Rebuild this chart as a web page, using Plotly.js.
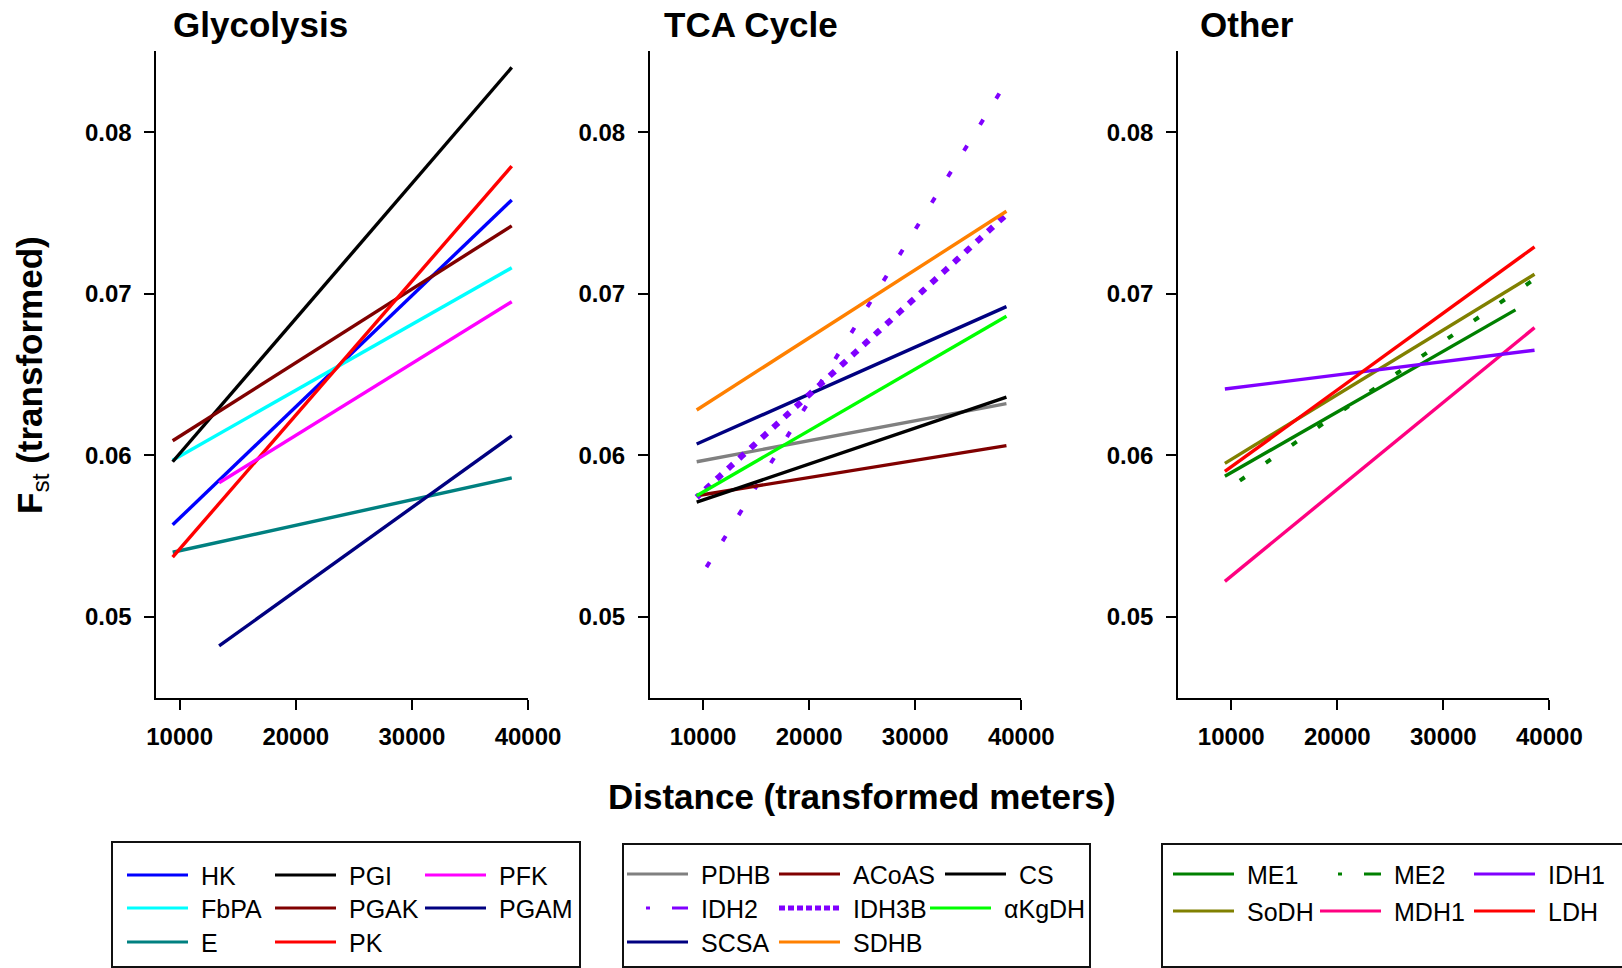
<!DOCTYPE html>
<html><head><meta charset="utf-8">
<script src="https://cdn.plot.ly/plotly-3.0.1.min.js"></script>
<style>html,body{margin:0;padding:0;background:#fff}#chart{width:1622px;height:968px}</style>
</head><body><div id="chart"></div>
<script>
// ================= DATA =================
const panelTitles = ['Glycolysis', 'TCA Cycle', 'Other'];
const xAxisTitle = 'Distance (transformed meters)';
const yAxisTitle = '<b>F</b><sub>st</sub><b> (transformed)</b>';
const yTickVals = [0.05, 0.06, 0.07, 0.08];
const xTickVals = [10000, 20000, 30000, 40000];

// Glycolysis (order = legend column order)
const glyGenes  = ['HK', 'FbPA', 'E', 'PGI', 'PGAK', 'PK', 'PFK', 'PGAM'];
const glyXStart = [9400, 9400, 9400, 9400, 9400, 9400, 13400, 13400];
const glyXEnd   = [38600, 38600, 38600, 38600, 38600, 38600, 38600, 38600];
const glyYStart = [0.0557, 0.0597, 0.0540, 0.0596, 0.0609, 0.0537, 0.0583, 0.0482];
const glyYEnd   = [0.0758, 0.0716, 0.0586, 0.0840, 0.0742, 0.0779, 0.0695, 0.0612];

// TCA cycle
const tcaGenes  = ['PDHB', 'IDH2', 'SCSA', 'ACoAS', 'IDH3B', 'SDHB', 'CS', 'αKgDH'];
const tcaXStart = [9400, 9400, 9400, 9400, 9400, 9400, 9400, 9400];
const tcaXEnd   = [38600, 38600, 38600, 38600, 38600, 38600, 38600, 38600];
const tcaYStart = [0.0596, 0.0521, 0.0607, 0.0575, 0.0574, 0.0628, 0.0571, 0.0575];
const tcaYEnd   = [0.0632, 0.0831, 0.0692, 0.0606, 0.0749, 0.0751, 0.0636, 0.0686];

// Other
const othGenes  = ['ME1', 'SoDH', 'ME2', 'MDH1', 'IDH1', 'LDH'];
const othXStart = [9400, 9400, 9400, 9400, 9400, 9400];
const othXEnd   = [36800, 38600, 38600, 38600, 38600, 38600];
const othYStart = [0.0587, 0.0595, 0.0578, 0.0522, 0.0641, 0.0590];
const othYEnd   = [0.0690, 0.0712, 0.0709, 0.0679, 0.0665, 0.0729];

// ================= STYLES =================
const STYLE = {
  HK: {color: '#0000FF'}, FbPA: {color: '#00FFFF'}, E: {color: '#008080'},
  PGI: {color: '#000000'}, PGAK: {color: '#800000'}, PK: {color: '#FF0000'},
  PFK: {color: '#FF00FF'}, PGAM: {color: '#000080'},
  PDHB: {color: '#808080'}, ACoAS: {color: '#800000'}, CS: {color: '#000000'},
  IDH2: {color: '#8000FF', width: 4, dash: '0px,18.6px,6px,6px', legendDash: '0px,19px,4px,22px,19px,100px'},
  IDH3B: {color: '#8000FF', width: 6, dash: '3.5px,8.3px,3.5px,0px', legendDash: '6px,3px', legendWidth: 5},
  'αKgDH': {color: '#00FF00'}, SCSA: {color: '#000080'}, SDHB: {color: '#FF8000'},
  ME1: {color: '#008000'}, ME2: {color: '#008000', width: 4, dash: '0px,18.1px,6px,7.4px', legendDash: '0px,18px,4px,22px,19px,100px'},
  IDH1: {color: '#8000FF'}, SoDH: {color: '#808000'}, MDH1: {color: '#FF0080'}, LDH: {color: '#FF0000'}
};
const LINE_W = 3.4;
const FONT = 'Liberation Sans, Arial, Helvetica, sans-serif';
const W = 1622, H = 968;
const px = v => v / W;
const py = v => 1 - v / H;

// ================= TRACES =================
const panels = [
  {genes: glyGenes, xs: glyXStart, xe: glyXEnd, ys: glyYStart, ye: glyYEnd},
  {genes: tcaGenes, xs: tcaXStart, xe: tcaXEnd, ys: tcaYStart, ye: tcaYEnd},
  {genes: othGenes, xs: othXStart, xe: othXEnd, ys: othYStart, ye: othYEnd}
];
const traces = [];
panels.forEach((p, pi) => {
  const sfx = pi === 0 ? '' : String(pi + 1);
  p.genes.forEach((g, i) => {
    const st = STYLE[g];
    traces.push({
      type: 'scatter', mode: 'lines', name: g,
      x: [p.xs[i], p.xe[i]], y: [p.ys[i], p.ye[i]],
      xaxis: 'x' + sfx, yaxis: 'y' + sfx,
      line: {color: st.color, width: st.width || LINE_W, dash: st.dash || 'solid'},
      showlegend: false, hoverinfo: 'name'
    });
  });
});

// ================= AXES =================
const yDomain = [py(697.7), py(51.3)];
const xDomains = [[px(156.4), px(528)], [px(650), px(1021.3)], [px(1178.2), px(1549.4)]];
const xRanges = [[8000, 40000], [5000, 40000], [5000, 40000]];
const tickFont = {family: FONT, size: 24, color: '#000', weight: 'bold'};
const layout = {
  width: W, height: H,
  margin: {l: 0, r: 0, t: 0, b: 0, pad: 0},
  paper_bgcolor: '#fff', plot_bgcolor: '#fff',
  showlegend: false,
  font: {family: FONT, color: '#000'},
  shapes: [], annotations: []
};
for (let k = 0; k < 3; k++) {
  const sfx = k === 0 ? '' : String(k + 1);
  layout['xaxis' + sfx] = {
    domain: xDomains[k], range: xRanges[k], anchor: 'y' + sfx,
    showline: true, linecolor: '#000', linewidth: 2, mirror: false,
    showgrid: false, zeroline: false,
    ticks: 'outside', ticklen: 10, tickwidth: 2, tickcolor: '#000',
    tickvals: xTickVals, tickformat: 'd', tickfont: tickFont, ticklabelstandoff: 6
  };
  layout['yaxis' + sfx] = {
    domain: yDomain, range: [0.045, 0.085], anchor: 'x' + sfx,
    showline: true, linecolor: '#000', linewidth: 2, mirror: false,
    showgrid: false, zeroline: false,
    ticks: 'outside', ticklen: 10, tickwidth: 2, tickcolor: '#000',
    tickvals: yTickVals, tickformat: '.2f', tickfont: tickFont, ticklabelstandoff: 8
  };
}

// ================= TITLES =================
const titleX = [171, 662, 1198];
panelTitles.forEach((t, k) => {
  layout.annotations.push({
    xref: 'paper', yref: 'paper', x: px(titleX[k]), y: py(25), xanchor: 'left', yanchor: 'middle',
    text: t, showarrow: false, font: {family: FONT, size: 35, weight: 'bold', color: '#000'}
  });
});
layout.annotations.push({
  xref: 'paper', yref: 'paper', x: px(862), y: py(796), xanchor: 'center', yanchor: 'middle',
  text: '<b>' + xAxisTitle + '</b>', showarrow: false, font: {family: FONT, size: 35, color: '#000'}
});
layout.annotations.push({
  xref: 'paper', yref: 'paper', x: px(32), y: py(375), xanchor: 'center', yanchor: 'middle',
  textangle: -90, text: yAxisTitle, showarrow: false, font: {family: FONT, size: 35, color: '#000'}
});

// ================= LEGEND BOXES (manual) =================
const LEG = [
  {box: [112, 842, 580, 967], rows: 3, colX: [127, 275, 425], rowY: [875, 908, 942]},
  {box: [623, 844, 1090, 967], rows: 3, colX: [627, 779, 938], rowY: [874, 908, 942]},
  {box: [1162, 844, 1626, 967], rows: 2, colX: [1173, 1320, 1474], rowY: [874, 911]}
];
const NUDGE = {CS: 7, 'αKgDH': -8};
panels.forEach((p, k) => {
  const L = LEG[k];
  layout.shapes.push({
    type: 'rect', xref: 'paper', yref: 'paper',
    x0: px(L.box[0]), x1: px(L.box[2]), y0: py(L.box[3]), y1: py(L.box[1]),
    line: {color: '#111', width: 2}, fillcolor: 'rgba(0,0,0,0)'
  });
  p.genes.forEach((g, i) => {
    const st = STYLE[g];
    const c = Math.floor(i / L.rows), r = i % L.rows;
    const x0 = L.colX[c] + (NUDGE[g] || 0);
    const y = L.rowY[r];
    layout.shapes.push({
      type: 'line', xref: 'paper', yref: 'paper',
      x0: px(x0), x1: px(x0 + 61), y0: py(y), y1: py(y),
      line: {color: st.color, width: st.legendWidth || 3, dash: st.legendDash || 'solid'}
    });
    layout.annotations.push({
      xref: 'paper', yref: 'paper', x: px(x0 + 72), y: py(y + 1), xanchor: 'left', yanchor: 'middle',
      text: g, showarrow: false, font: {family: FONT, size: 25, color: '#000'}
    });
  });
});

Plotly.newPlot('chart', traces, layout, {displayModeBar: false, responsive: false});
</script>
</body></html>
